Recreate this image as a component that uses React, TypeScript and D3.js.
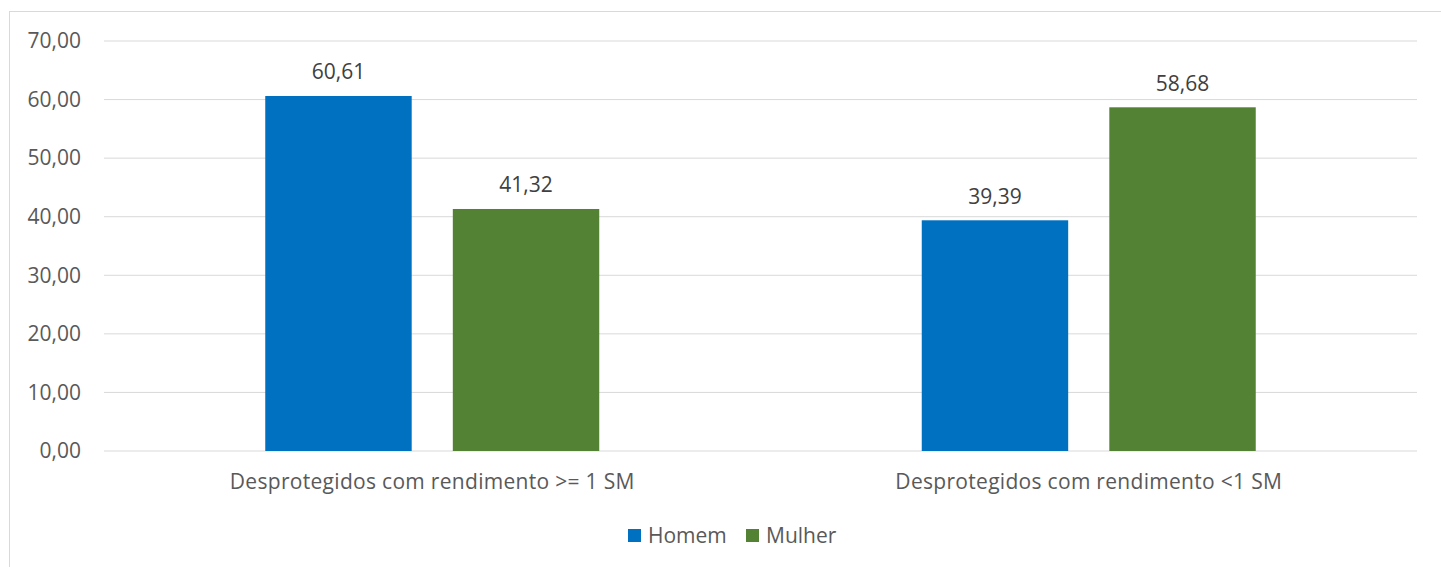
import React from "react";
import * as d3 from "d3";

const categories = ["Desprotegidos com rendimento >= 1 SM", "Desprotegidos com rendimento <1 SM"];
const seriesNames = ["Homem", "Mulher"];
const homemValues = [60.61, 39.39];
const mulherValues = [41.32, 58.68];
const yTicks = [0, 10, 20, 30, 40, 50, 60, 70];
const colors = ["#0070C0", "#548235"];

const fmt = (v: number) => v.toFixed(2).replace(".", ",");

export default function App() {
  const W = 1441, H = 567;
  const left = 104, right = 1417, top = 41, bottom = 451;
  const x0 = d3.scaleBand<string>().domain(categories).range([left, right]).paddingInner(0).paddingOuter(0);
  const x1 = d3.scaleBand<string>().domain(seriesNames).range([0, 334]).paddingInner(41 / 187).paddingOuter(0);
  const y = d3.scaleLinear().domain([0, 70]).range([bottom, top]);
  const series = [homemValues, mulherValues];
  const font = "'Open Sans', 'Segoe UI', sans-serif";
  const fs = 21;

  return (
    <svg width={W} height={H} style={{ position: "absolute", left: 0, top: 0 }} fontFamily={font}>
      <rect x={0} y={0} width={W} height={H} fill="#fff" />
      <rect x={9.5} y={11.5} width={W + 20} height={H + 20} fill="none" stroke="#d9d9d9" strokeWidth={1} />
      {yTicks.map((t) => (
        <g key={t}>
          <line x1={left} x2={right} y1={y(t)} y2={y(t)} stroke="#d9d9d9" strokeWidth={1} />
          <text x={81} y={y(t)} dy="0.35em" textAnchor="end" fontSize={fs} fill="#595959">{fmt(t)}</text>
        </g>
      ))}
      {categories.map((c, ci) => {
        const cx = x0(c)! + x0.bandwidth() / 2;
        const gx = cx - 167;
        return (
          <g key={c}>
            {seriesNames.map((s, si) => {
              const v = series[si][ci];
              const bx = gx + x1(s)!;
              return (
                <g key={s}>
                  <rect x={bx} y={y(v)} width={x1.bandwidth()} height={bottom - y(v)} fill={colors[si]} />
                  <text x={bx + x1.bandwidth() / 2} y={y(v) - 24} dy="0.35em" textAnchor="middle" fontSize={21} fill="#404040">{fmt(v)}</text>
                </g>
              );
            })}
            <text x={cx} y={482} dy="0.35em" textAnchor="middle" fontSize={fs} letterSpacing={0.3} fill="#595959">{c}</text>
          </g>
        );
      })}
      {seriesNames.map((s, si) => {
        const lx = [628, 746][si];
        return (
          <g key={s}>
            <rect x={lx} y={529} width={13} height={13} fill={colors[si]} />
            <text x={lx + 20} y={536} dy="0.35em" fontSize={fs} fill="#595959">{s}</text>
          </g>
        );
      })}
    </svg>
  );
}
